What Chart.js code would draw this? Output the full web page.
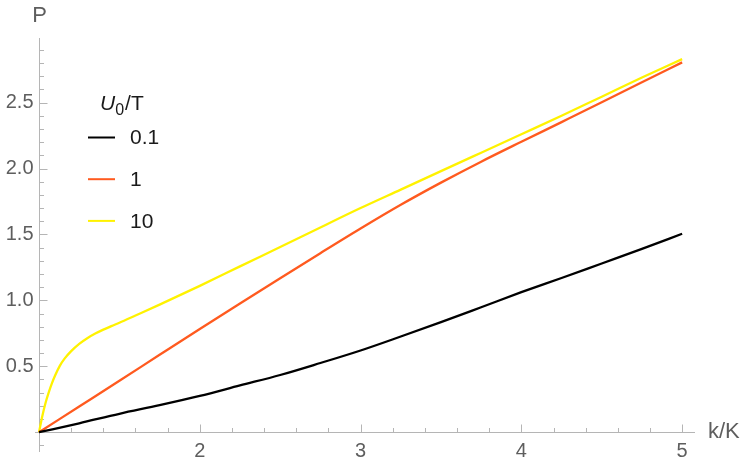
<!DOCTYPE html>
<html>
<head>
<meta charset="utf-8">
<script src="https://cdn.jsdelivr.net/npm/chart.js@4.4.0/dist/chart.umd.min.js"></script>
<style>
  html, body { margin: 0; padding: 0; background: #fff; }
  #wrap { width: 747px; height: 470px; }
</style>
</head>
<body>
<div id="wrap"><canvas id="pChart" width="747" height="470"></canvas></div>
<script>
// k/K grid shared by the two smoother curves
const kGrid = [1, 1.25, 1.5, 1.75, 2, 2.25, 2.5, 2.75, 3, 3.25, 3.5, 3.75, 4, 4.25, 4.5, 4.75, 5];
const pLow = [0, 0.068, 0.14, 0.205, 0.275, 0.355, 0.434, 0.525, 0.62, 0.726, 0.835, 0.948, 1.062, 1.17, 1.28, 1.39, 1.505];
const pMid = [0, 0.195, 0.39, 0.587, 0.783, 0.976, 1.168, 1.358, 1.545, 1.725, 1.893, 2.052, 2.203, 2.352, 2.502, 2.655, 2.805];

// the U0/T = 10 curve rises fast near k = K, so it has more points there
const kHigh = [1, 1.02, 1.04, 1.06, 1.08, 1.1, 1.13, 1.16, 1.2, 1.25, 1.3, 1.35, 1.4, 1.45, 1.5, 1.6, 1.75, 2, 2.25, 2.5, 2.75, 3, 3.25, 3.5, 3.75, 4, 4.25, 4.5, 4.75, 5];
const pHigh = [0, 0.12, 0.22, 0.30, 0.37, 0.43, 0.505, 0.56, 0.615, 0.67, 0.713, 0.748, 0.778, 0.805, 0.83, 0.885, 0.968, 1.11, 1.258, 1.405, 1.553, 1.70, 1.84, 1.98, 2.12, 2.26, 2.40, 2.545, 2.69, 2.83];

const seriesLabels = ['0.1', '1', '10'];
const seriesColors = ['#000000', '#ff5a1f', '#fff200'];

// ticks
const xTickValues = [2, 3, 4, 5];
const xTickLabels = ['2', '3', '4', '5'];
const yTickValues = [0.5, 1.0, 1.5, 2.0, 2.5];
const yTickLabels = ['0.5', '1.0', '1.5', '2.0', '2.5'];
const xMinorStep = 0.2;
const yMinorStep = 0.1;

const axisColor = '#b5b5b5';
const labelColor = '#5e5e5e';
const fontFamily = '"Liberation Sans", Arial, sans-serif';

function toPoints(xs, ys) {
    return xs.map((x, i) => ({ x: x, y: ys[i] }));
}

// Mathematica-style axes crossing at (1, 0)
const crossAxes = {
    id: 'crossAxes',
    beforeDatasetsDraw(chart) {
        const ctx = chart.ctx;
        const xs = chart.scales.x, ys = chart.scales.y;
        const area = chart.chartArea;
        const x0 = Math.round(xs.getPixelForValue(1)) + 0.5;
        const y0 = Math.round(ys.getPixelForValue(0)) + 0.5;

        ctx.save();
        ctx.strokeStyle = axisColor;
        ctx.lineWidth = 1;
        ctx.beginPath();
        ctx.moveTo(area.left, y0); ctx.lineTo(area.right, y0);
        ctx.moveTo(x0, area.bottom); ctx.lineTo(x0, area.top);

        // x ticks, pointing up into the plot
        for (let v = 1 + xMinorStep; v <= xs.max + 1e-9; v += xMinorStep) {
            const major = xTickValues.some(t => Math.abs(t - v) < 1e-6);
            const px = Math.round(xs.getPixelForValue(v)) + 0.5;
            ctx.moveTo(px, y0); ctx.lineTo(px, y0 - (major ? 8 : 4.5));
        }
        // y ticks, pointing right into the plot
        for (let v = -yMinorStep; v <= ys.max + 1e-9; v += yMinorStep) {
            if (Math.abs(v) < 1e-6) continue;
            const major = yTickValues.some(t => Math.abs(t - v) < 1e-6);
            const py = Math.round(ys.getPixelForValue(v)) + 0.5;
            ctx.moveTo(x0, py); ctx.lineTo(x0 + (major ? 8 : 4.5), py);
        }
        ctx.stroke();

        ctx.fillStyle = labelColor;
        ctx.font = '20px ' + fontFamily;
        ctx.textAlign = 'center';
        ctx.textBaseline = 'middle';
        xTickValues.forEach((v, i) => {
            ctx.fillText(xTickLabels[i], xs.getPixelForValue(v), y0 + 19);
        });
        ctx.textAlign = 'right';
        yTickValues.forEach((v, i) => {
            ctx.fillText(yTickLabels[i], x0 - 6, ys.getPixelForValue(v));
        });

        // axis names
        ctx.font = '22px ' + fontFamily;
        ctx.textAlign = 'center';
        ctx.fillText('P', x0, 16);
        ctx.textAlign = 'left';
        ctx.fillText('k/K', area.right + 13, y0 - 1);
        ctx.restore();
    },
    afterDatasetsDraw(chart) {
        // legend with the U0/T title
        const ctx = chart.ctx;
        ctx.save();
        ctx.fillStyle = '#1a1a1a';
        ctx.textBaseline = 'alphabetic';
        ctx.textAlign = 'left';
        ctx.font = 'italic 21px ' + fontFamily;
        ctx.fillText('U', 100, 110);
        const uw = ctx.measureText('U').width;
        ctx.font = '16px ' + fontFamily;
        ctx.fillText('0', 100 + uw, 115);
        const zw = ctx.measureText('0').width;
        ctx.font = '21px ' + fontFamily;
        ctx.fillText('/T', 100 + uw + zw + 1, 110);

        ctx.textBaseline = 'middle';
        chart.data.datasets.forEach((ds, i) => {
            const y = 137.5 + i * 41.7;
            ctx.strokeStyle = ds.borderColor;
            ctx.lineWidth = 2;
            ctx.beginPath();
            ctx.moveTo(88, y); ctx.lineTo(115, y);
            ctx.stroke();
            ctx.fillText(ds.label, 130, y + 1);
        });
        ctx.restore();
    }
};

const chart = new Chart(document.getElementById('pChart').getContext('2d'), {
    type: 'line',
    data: {
        datasets: [
            { label: seriesLabels[0], data: toPoints(kGrid, pLow), borderColor: seriesColors[0] },
            { label: seriesLabels[1], data: toPoints(kGrid, pMid), borderColor: seriesColors[1] },
            { label: seriesLabels[2], data: toPoints(kHigh, pHigh), borderColor: seriesColors[2] }
        ].map(ds => ({ ...ds, borderWidth: 2.3, pointRadius: 0, fill: false, cubicInterpolationMode: 'monotone' }))
    },
    options: {
        responsive: false,
        animation: false,
        layout: { padding: { left: 35, right: 52, top: 38, bottom: 18 } },
        plugins: { legend: { display: false }, tooltip: { enabled: false } },
        scales: {
            x: { type: 'linear', min: 0.975, max: 5.08, display: false },
            y: { type: 'linear', min: -0.15, max: 2.99, display: false }
        }
    },
    plugins: [crossAxes]
});
</script>
</body>
</html>
